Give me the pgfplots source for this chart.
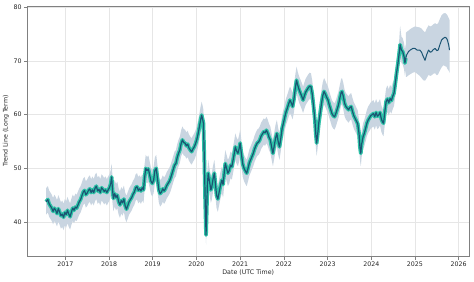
\documentclass[border=0pt]{standalone}
\usepackage{pgfplots}
\pgfplotsset{compat=1.18}
\usepackage{pgfplotstable}
\usepgfplotslibrary{fillbetween}
\usepackage{fontspec}
\setmainfont{DejaVu Sans}
\definecolor{bandc}{HTML}{C9D5E1}
\definecolor{tealc}{HTML}{2EC4A8}
\definecolor{darkc}{HTML}{1B5473}
\definecolor{gridc}{HTML}{E6E6E6}
\definecolor{spinec}{HTML}{808080}
\pgfplotstableread{
x y lo hi
2016.56 43.8 41.4 46.3
2016.60 44.2 41.8 46.7
2016.63 43.4 41.0 45.9
2016.66 43.0 40.6 45.5
2016.69 42.6 40.2 45.1
2016.72 42.0 39.6 44.5
2016.75 42.6 40.2 45.1
2016.78 42.2 39.8 44.7
2016.81 41.6 39.2 44.1
2016.84 42.5 40.1 45.0
2016.87 41.9 39.5 44.4
2016.90 41.2 38.8 43.7
2016.93 41.5 39.1 44.0
2016.96 40.9 38.5 43.4
2016.99 41.8 39.4 44.3
2017.02 41.4 39.0 43.9
2017.05 42.2 39.8 44.7
2017.08 41.5 39.1 44.0
2017.11 41.0 38.6 43.5
2017.14 41.9 39.5 44.4
2017.17 42.6 40.2 45.1
2017.20 42.2 39.8 44.7
2017.23 42.8 40.4 45.3
2017.26 42.6 40.2 45.1
2017.29 43.2 40.8 45.7
2017.32 43.8 41.4 46.3
2017.35 44.2 41.8 46.7
2017.38 44.9 42.5 47.4
2017.41 45.6 43.2 48.1
2017.44 45.9 43.5 48.4
2017.47 45.1 42.7 47.6
2017.50 45.4 43.0 47.9
2017.53 45.9 43.5 48.4
2017.56 46.2 43.8 48.7
2017.59 45.5 43.1 48.0
2017.62 46.0 43.6 48.5
2017.65 45.5 43.1 48.0
2017.68 46.3 43.9 48.8
2017.71 46.7 44.3 49.2
2017.74 45.8 43.4 48.3
2017.77 46.1 43.7 48.6
2017.80 45.5 43.1 48.0
2017.83 46.4 44.0 48.9
2017.86 46.1 43.7 48.6
2017.89 45.7 43.3 48.2
2017.92 46.0 43.6 48.5
2017.95 45.5 43.1 48.0
2017.98 46.0 43.6 48.5
2018.01 46.4 44.0 48.9
2018.04 47.2 44.8 49.7
2018.06 48.4 46.0 50.9
2018.08 46.0 43.6 48.5
2018.10 44.4 42.0 46.9
2018.13 45.3 42.9 47.8
2018.16 44.6 42.2 47.1
2018.19 45.0 42.6 47.5
2018.22 43.8 41.4 46.3
2018.25 43.2 40.8 45.7
2018.28 44.0 41.6 46.5
2018.31 43.6 41.2 46.1
2018.34 44.3 41.9 46.8
2018.37 43.0 40.6 45.5
2018.40 42.4 40.0 44.9
2018.43 43.1 40.7 45.6
2018.46 43.8 41.4 46.3
2018.49 44.2 41.8 46.7
2018.52 44.6 42.2 47.1
2018.55 45.2 42.8 47.7
2018.58 45.6 43.2 48.1
2018.61 46.4 44.0 48.9
2018.64 46.6 44.2 49.1
2018.67 45.9 43.5 48.4
2018.70 46.2 43.8 48.7
2018.73 45.8 43.4 48.3
2018.76 46.4 44.0 48.9
2018.79 46.0 43.6 48.5
2018.81 48.0 45.6 50.5
2018.84 50.0 47.6 52.5
2018.87 49.6 47.2 52.1
2018.90 49.9 47.5 52.4
2018.93 48.8 46.4 51.3
2018.96 47.6 45.2 50.1
2018.99 47.2 44.8 49.7
2019.02 47.8 45.4 50.3
2019.05 49.6 47.2 52.1
2019.08 50.0 47.6 52.5
2019.11 48.0 45.6 50.5
2019.14 46.0 43.6 48.5
2019.17 45.3 42.9 47.8
2019.20 45.6 43.2 48.1
2019.23 46.2 43.8 48.7
2019.26 45.8 43.4 48.3
2019.29 46.2 43.8 48.7
2019.32 46.8 44.4 49.3
2019.35 47.2 44.8 49.7
2019.38 47.6 45.2 50.1
2019.41 48.2 45.8 50.7
2019.44 49.0 46.6 51.5
2019.47 49.8 47.4 52.3
2019.50 50.6 48.2 53.1
2019.53 50.9 48.5 53.4
2019.56 52.0 49.6 54.5
2019.59 52.8 50.4 55.3
2019.62 53.4 51.0 55.9
2019.65 54.6 52.2 57.1
2019.68 55.3 52.9 57.8
2019.71 54.8 52.4 57.3
2019.74 54.7 52.3 57.2
2019.77 54.2 51.8 56.7
2019.80 54.5 52.1 57.0
2019.83 53.8 51.4 56.3
2019.86 53.4 51.0 55.9
2019.89 53.1 50.7 55.6
2019.92 53.6 51.2 56.1
2019.95 54.0 51.6 56.5
2019.98 54.6 52.2 57.1
2020.01 55.4 53.0 57.9
2020.04 56.5 54.1 59.0
2020.07 57.8 55.4 60.3
2020.10 59.2 56.8 61.7
2020.12 59.9 57.5 62.4
2020.14 59.2 56.8 61.7
2020.16 58.4 56.0 60.9
2020.18 52.0 49.6 54.5
2020.20 44.0 41.6 46.5
2020.22 37.6 35.8 40.0
2020.235 42.0 39.6 44.5
2020.25 47.0 44.6 49.5
2020.27 49.1 46.7 51.6
2020.30 47.5 45.1 50.0
2020.33 46.0 43.6 48.5
2020.35 46.5 44.1 49.0
2020.38 48.0 45.6 50.5
2020.41 49.1 46.7 51.6
2020.43 47.5 45.1 50.0
2020.46 45.0 42.6 47.5
2020.49 44.3 41.9 46.8
2020.52 45.6 43.2 48.1
2020.55 46.8 44.4 49.3
2020.58 47.8 45.4 50.3
2020.61 47.0 44.6 49.5
2020.64 49.5 47.1 52.0
2020.66 50.9 48.5 53.4
2020.69 50.0 47.6 52.5
2020.72 49.1 46.7 51.6
2020.75 49.6 47.2 52.1
2020.78 50.6 48.2 53.1
2020.81 50.3 47.9 52.8
2020.84 51.6 49.2 54.1
2020.87 53.0 50.6 55.5
2020.89 54.0 51.6 56.5
2020.92 53.2 50.8 55.7
2020.95 52.8 50.4 55.3
2020.98 53.8 51.4 56.3
2021.00 54.7 52.3 57.2
2021.03 52.6 50.2 55.1
2021.06 50.8 48.4 53.3
2021.09 50.0 47.6 52.5
2021.12 49.5 47.1 52.0
2021.15 49.1 46.7 51.6
2021.18 50.0 47.6 52.5
2021.21 51.0 48.6 53.5
2021.24 51.6 49.2 54.1
2021.27 52.2 49.8 54.7
2021.30 52.8 50.4 55.3
2021.33 53.6 51.2 56.1
2021.36 54.2 51.8 56.7
2021.39 54.7 52.3 57.2
2021.42 54.9 52.5 57.4
2021.45 55.3 52.9 57.8
2021.48 56.0 53.6 58.5
2021.51 56.4 54.0 58.9
2021.54 56.8 54.4 59.3
2021.57 56.6 54.2 59.1
2021.60 57.1 54.7 59.6
2021.63 56.6 54.2 59.1
2021.66 55.8 53.4 58.3
2021.69 55.3 52.9 57.8
2021.72 54.0 51.6 56.5
2021.75 52.8 50.4 55.3
2021.78 54.2 51.8 56.7
2021.81 55.6 53.2 58.1
2021.84 56.5 54.1 59.0
2021.87 55.0 52.6 57.5
2021.90 54.0 51.6 56.5
2021.93 55.6 53.2 58.1
2021.96 57.4 55.0 59.9
2021.99 58.4 56.0 60.9
2022.02 59.5 57.1 62.0
2022.05 60.5 58.1 63.0
2022.08 61.2 58.8 63.7
2022.11 62.0 59.6 64.5
2022.14 62.7 60.3 65.2
2022.17 62.2 59.8 64.7
2022.20 61.5 59.1 64.0
2022.23 62.8 60.4 65.3
2022.26 64.8 62.4 67.3
2022.29 66.4 64.0 68.9
2022.32 65.4 63.0 67.9
2022.35 64.6 62.2 67.1
2022.38 64.0 61.6 66.5
2022.41 63.4 61.0 65.9
2022.44 62.7 60.3 65.2
2022.47 63.5 61.1 66.0
2022.50 64.2 61.8 66.7
2022.53 64.6 62.2 67.1
2022.56 65.0 62.6 67.5
2022.59 65.3 62.9 67.8
2022.62 65.2 62.8 67.7
2022.65 63.8 61.4 66.3
2022.68 61.5 59.1 64.0
2022.71 59.0 56.6 61.5
2022.73 56.5 54.1 59.0
2022.75 54.7 52.3 57.2
2022.77 56.0 53.6 58.5
2022.80 58.5 56.1 61.0
2022.83 60.2 57.8 62.7
2022.86 62.0 59.6 64.5
2022.89 63.5 61.1 66.0
2022.92 64.3 61.9 66.8
2022.95 63.8 61.4 66.3
2022.98 63.2 60.8 65.7
2023.01 62.7 60.3 65.2
2023.04 61.8 59.4 64.3
2023.07 61.0 58.6 63.5
2023.10 60.2 57.8 62.7
2023.13 59.8 57.4 62.3
2023.16 59.6 57.2 62.1
2023.19 60.2 57.8 62.7
2023.22 61.0 58.6 63.5
2023.25 61.8 59.4 64.3
2023.28 63.0 60.6 65.5
2023.31 64.1 61.7 66.6
2023.33 64.3 61.9 66.8
2023.36 63.4 61.0 65.9
2023.39 62.1 59.7 64.6
2023.42 61.5 59.1 64.0
2023.45 61.2 58.8 63.7
2023.48 60.9 58.5 63.4
2023.51 61.3 58.9 63.8
2023.54 61.5 59.1 64.0
2023.57 60.6 58.2 63.1
2023.60 59.8 57.4 62.3
2023.63 59.3 56.9 61.8
2023.66 58.8 56.4 61.3
2023.69 58.3 55.9 60.8
2023.72 56.5 54.1 59.0
2023.74 54.0 51.6 56.5
2023.76 52.8 50.4 55.3
2023.78 54.5 52.1 57.0
2023.81 55.8 53.4 58.3
2023.84 56.5 54.1 59.0
2023.87 57.4 55.0 59.9
2023.90 58.4 56.0 60.9
2023.93 59.0 56.6 61.5
2023.96 59.4 57.0 61.9
2023.99 59.8 57.4 62.3
2024.02 60.0 57.6 62.5
2024.05 60.2 57.8 62.7
2024.08 59.6 57.2 62.1
2024.11 60.4 58.0 62.9
2024.14 59.7 57.3 62.2
2024.17 59.9 57.5 62.4
2024.20 60.4 58.0 62.9
2024.23 59.2 56.8 61.7
2024.26 58.6 56.2 61.1
2024.28 58.4 56.0 60.9
2024.31 60.5 58.1 63.0
2024.34 62.4 60.0 64.9
2024.37 62.9 60.5 65.4
2024.40 62.2 59.8 64.7
2024.43 63.0 60.6 65.5
2024.46 62.6 60.2 65.1
2024.49 63.4 61.0 65.9
2024.52 64.0 61.6 66.5
2024.55 65.8 63.4 68.3
2024.58 67.8 65.4 70.3
2024.61 69.5 67.1 72.0
2024.64 71.5 69.1 74.0
2024.66 73.0 70.6 76.5
2024.69 72.0 69.6 74.5
2024.72 71.7 69.3 74.2
2024.75 70.8 68.4 73.3
2024.77 69.6 67.2 72.1
2024.79 70.5 68.1 73.0
}\hist
\pgfplotstableread{
x y lo hi
2024.79 70.5 67.0 75.2
2024.81 71.1 67.0 75.4
2024.85 71.7 67.3 75.6
2024.89 72.0 67.5 75.9
2024.95 72.3 67.8 76.2
2025.00 72.3 67.9 76.4
2025.05 72.0 67.6 76.3
2025.11 72.0 67.2 76.2
2025.15 71.6 66.8 76.0
2025.19 70.8 66.4 75.6
2025.23 70.1 66.3 75.3
2025.27 71.2 66.8 76.0
2025.31 72.0 67.4 76.6
2025.35 71.6 67.2 76.4
2025.38 71.7 67.3 76.5
2025.42 72.1 67.6 76.8
2025.46 72.3 67.7 77.0
2025.50 71.9 67.3 76.8
2025.53 72.0 67.5 77.0
2025.57 73.0 68.2 77.8
2025.61 73.9 68.8 78.5
2025.65 74.2 69.2 78.8
2025.69 74.4 69.0 78.9
2025.72 74.2 68.9 78.7
2025.74 73.9 68.5 78.5
2025.77 73.0 68.2 78.0
2025.79 72.0 67.8 77.6
}\fc
\begin{document}
\fontsize{6.3}{7.5}\selectfont
\begin{tikzpicture}
\begin{axis}[
  at={(0,0)}, anchor=south west,
  scale only axis, width=441.5bp, height=250bp,
  xmin=2016.135, xmax=2026.236, ymin=33.7, ymax=80.2,
  xtick={2017,2018,...,2026}, ytick={40,50,60,70,80},
  /pgf/number format/1000 sep={},
  /pgf/number format/assume math mode=true,
  tick align=outside, tick pos=left,
  major tick length=3.5bp,
  every tick/.style={spinec, line width=0.6pt},
  axis line style={spinec, line width=0.8pt},
  grid=major, major grid style={gridc, line width=0.5pt},
  tick label style={font=\fontsize{6.3}{7.5}\selectfont, text=black!85},
  xlabel={Date (UTC Time)}, ylabel={Trend Line (Long Term)},
  label style={font=\fontsize{6.3}{7.5}\selectfont, text=black!85},
  xlabel style={at={(axis description cs:0.5,-0.068)}, anchor=center},
  ylabel style={at={(axis description cs:-0.0487,0.5)}, anchor=center, rotate=0},
  clip=true,
]
\addplot[draw=none, name path=hh, forget plot] table[x=x,y=hi] {\hist};
\addplot[draw=none, name path=hl, forget plot] table[x=x,y=lo] {\hist};
\addplot[fill=bandc, draw=none, forget plot] fill between[of=hh and hl];
\addplot[draw=none, name path=fh, forget plot] table[x=x,y=hi] {\fc};
\addplot[draw=none, name path=fl, forget plot] table[x=x,y=lo] {\fc};
\addplot[fill=bandc, draw=none, forget plot] fill between[of=fh and fl];
\addplot[tealc, line width=3.8pt, line join=round] table[x=x,y=y] {\hist};
\addplot[darkc, line width=1.2pt, line join=round] table[x=x,y=y] {\hist};
\addplot[darkc, line width=1.0pt, line join=round] table[x=x,y=y] {\fc};
\end{axis}
\pgfresetboundingbox
\path[use as bounding box] (-27.5bp,-26bp) rectangle (446.5bp,256bp);
\end{tikzpicture}
\end{document}
